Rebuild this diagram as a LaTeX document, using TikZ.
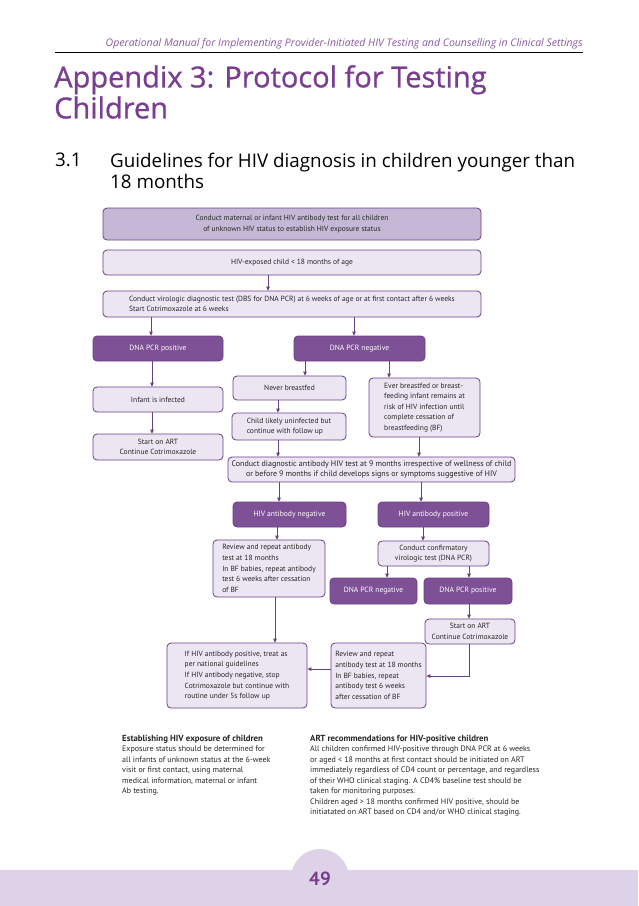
\documentclass[tikz,border=0pt]{standalone}
\usepackage{fontspec}
\setmainfont{PT Sans}
\newfontfamily\titlefont[FakeBold=0.9]{Open Sans}
\newfontfamily\headfont{Open Sans}
\usepackage{xcolor}
\usepackage{tikz}
\usetikzlibrary{arrows.meta, positioning}
\definecolor{plum}{RGB}{126,80,150}
\definecolor{plumline}{RGB}{104,64,132}
\definecolor{lilac}{RGB}{235,230,241}
\definecolor{mauve}{RGB}{196,184,214}
\definecolor{band}{RGB}{221,210,231}
\definecolor{titlepurple}{RGB}{122,62,144}
\definecolor{headpurple}{RGB}{135,88,160}
\tikzset{
    dims/.style 2 args = {minimum width=#1, minimum height=#2},
    boxmid/.style  = {draw=plumline, fill=mauve, rounded corners=4pt, line width=0.8pt,
                      inner sep=0pt, align=center, text=black!85,
                      font=\fontsize{7.5}{11.5}\selectfont},
    boxpale/.style = {draw=plumline, fill=lilac, rounded corners=4pt, line width=0.8pt,
                      inner sep=0pt, text=black!85, font=\fontsize{7.5}{10.6}\selectfont},
    boxdeep/.style = {draw=plumline, fill=plum, rounded corners=4pt, line width=0.8pt,
                      inner sep=0pt, align=center, text=white,
                      font=\fontsize{7.6}{10}\selectfont},
    link/.style    = {-{Triangle[length=4pt, width=3.6pt]}, line width=0.9pt, plumline},
    note/.style    = {anchor=north west, align=left, inner sep=0pt, text=black!85,
                      font=\fontsize{8}{10.5}\selectfont},
}

\begin{document}
\begin{tikzpicture}[x=1pt, y=-1pt]
    \useasboundingbox (0,0) rectangle (638,906);
    % page head
    \node[anchor=base east, inner sep=0pt, text=headpurple,
          font=\fontsize{10.5}{12}\headfont\itshape] (runhead) at (583,46)
        {Operational Manual for Implementing Provider-Initiated HIV Testing and Counselling in Clinical Settings};
    \draw[line width=0.6pt] (55,52) -- (583,52);
    \node[anchor=north west, inner sep=0pt, align=left, text=titlepurple,
          font=\fontsize{29}{31}\titlefont] (title) at (54,65)
        {Appendix 3: Protocol for Testing\\Children};
    \node[anchor=north west, inner sep=0pt, font=\fontsize{18.8}{21}\headfont] (secno) at (55,153) {3.1};
    \node[anchor=north west, inner sep=0pt, align=left,
          font=\fontsize{18.8}{21}\headfont] (sectitle) at (110,153)
        {Guidelines for HIV diagnosis in children younger than\\18 months};

    % flowchart
    \node[boxmid, dims={378pt}{32pt}] (maternal) at (292,224)
        {Conduct maternal or infant HIV antibody test for all children\\of unknown HIV status to establish HIV exposure status};
    \node[boxpale, align=center, dims={378pt}{25pt}] (exposed) at (292,262.5)
        {HIV-exposed child < 18 months of age};
    \node[boxpale, align=left, dims={378pt}{26pt}] (virol) at (292,304)
        {Conduct virologic diagnostic test (DBS for DNA PCR) at 6 weeks of age or at first contact after 6 weeks\\Start Cotrimoxazole at 6 weeks};
    \node[boxdeep, dims={130pt}{25pt}] (pcrpos) at (158,348.5) {DNA PCR positive};
    \node[boxdeep, dims={131pt}{25pt}] (pcrneg) at (359.5,348.5) {DNA PCR negative};
    \node[boxpale, align=center, dims={130pt}{25pt}] (infected) at (158,399.5) {Infant is infected};
    \node[boxpale, align=center, dims={130pt}{26pt}] (artA) at (158,447)
        {Start on ART\\Continue Cotrimoxazole};
    \node[boxpale, align=center, dims={113pt}{24pt}] (never) at (289.5,388) {Never breastfed};
    \node[boxpale, align=left, dims={111pt}{59pt}] (ever) at (424.5,407.5)
        {Ever breastfed or breast-\\feeding infant remains at\\risk of HIV infection until\\complete cessation of\\breastfeeding (BF)};
    \node[boxpale, align=left, dims={114pt}{27pt}] (likely) at (289,426.5)
        {Child likely uninfected but\\continue with follow up};
    \node[boxpale, align=center, dims={287pt}{25pt}, font=\fontsize{8}{10.4}\selectfont] (antibody) at (371.5,469.5)
        {Conduct diagnostic antibody HIV test at 9 months irrespective of wellness of child\\or before 9 months if child develops signs or symptoms suggestive of HIV};
    \node[boxdeep, dims={113pt}{25pt}] (abneg) at (289.5,514.5) {HIV antibody negative};
    \node[boxdeep, dims={111pt}{25pt}] (abpos) at (433.5,514.5) {HIV antibody positive};
    \node[boxpale, align=left, dims={112pt}{57pt}] (reviewA) at (269,568.5)
        {Review and repeat antibody\\test at 18 months\\In BF babies, repeat antibody\\test 6 weeks after cessation\\of BF};
    \node[boxpale, align=center, dims={111pt}{25pt}] (confirm) at (433.5,553.5)
        {Conduct confirmatory\\virologic test (DNA PCR)};
    \node[boxdeep, dims={87pt}{26pt}] (pcrnegB) at (373.5,591) {DNA PCR negative};
    \node[boxdeep, dims={88pt}{26pt}] (pcrposB) at (468,591) {DNA PCR positive};
    \node[boxpale, align=center, dims={90pt}{25pt}] (artB) at (470,631.5)
        {Start on ART\\Continue Cotrimoxazole};
    \node[boxpale, align=left, dims={140pt}{65pt}] (outcome) at (237,675.5)
        {If HIV antibody positive, treat as\\per national guidelines\\If HIV antibody negative, stop\\Cotrimoxazole but continue with\\routine under 5s follow up};
    \node[boxpale, align=left, dims={95pt}{65pt}] (reviewB) at (378.5,675.5)
        {Review and repeat\\antibody test at 18 months\\In BF babies, repeat\\antibody test 6 weeks\\after cessation of BF};

    % connectors
    \draw[link] ([xshift=-24pt]exposed.south) -- ([xshift=-24pt]virol.north);
    \draw[link] ([xshift=-7pt]pcrpos.north |- virol.south) -- ([xshift=-7pt]pcrpos.north);
    \draw[link] ([xshift=-5.5pt]pcrneg.north |- virol.south) -- ([xshift=-5.5pt]pcrneg.north);
    \draw[link] ([xshift=-6pt]pcrpos.south) -- ([xshift=-6pt]infected.north);
    \draw[link] ([xshift=-6pt]infected.south) -- ([xshift=-6pt]artA.north);
    \draw[link] ([xshift=15.5pt]never.north |- pcrneg.south) -- ([xshift=15.5pt]never.north);
    \draw[link] ([xshift=-35.5pt]ever.north |- pcrneg.south) -- ([xshift=-35.5pt]ever.north);
    \draw[link] ([xshift=-11pt]likely.north |- never.south) -- ([xshift=-11pt]likely.north);
    \draw[link] ([xshift=-11pt]likely.south) -- ([xshift=-11pt]likely.south |- antibody.north);
    \draw[link] ([xshift=-5.5pt]ever.south) -- ([xshift=-5.5pt]ever.south |- antibody.north);
    \draw[link] ([xshift=-10.5pt]abneg.north |- antibody.south) -- ([xshift=-10.5pt]abneg.north);
    \draw[link] ([xshift=-12.5pt]abpos.north |- antibody.south) -- ([xshift=-12.5pt]abpos.north);
    \draw[link] ([xshift=8pt]reviewA.north |- abneg.south) -- ([xshift=8pt]reviewA.north);
    \draw[link] ([xshift=-10.5pt]abpos.south) -- ([xshift=-10.5pt]confirm.north);
    \draw[link] ([xshift=13.5pt]pcrnegB.north |- confirm.south) -- ([xshift=13.5pt]pcrnegB.north);
    \draw[link] ([xshift=1pt]pcrposB.north |- confirm.south) -- ([xshift=1pt]pcrposB.north);
    \draw[link] ([xshift=1pt]pcrposB.south) -- ([xshift=1pt]pcrposB.south |- artB.north);
    \draw[link] ([xshift=6pt]reviewA.south) -- ([xshift=6pt]reviewA.south |- outcome.north);
    \draw[link] ([xshift=-1pt]artB.south) |- ([yshift=-0.5pt]reviewB.east);
    \draw[link] ([yshift=6.5pt]reviewB.west) -- ([yshift=6.5pt]outcome.east);

    % notes under the chart
    \node[note] (exposnote) at (122,735)
        {{\fontsize{8.8}{10.5}\selectfont\bfseries Establishing HIV exposure of children}\\
         Exposure status should be determined for\\
         all infants of unknown status at the 6-week\\
         visit or first contact, using maternal\\
         medical information, maternal or infant\\
         Ab testing.};
    \node[note] (artnote) at (310,735)
        {{\fontsize{8.8}{10.5}\selectfont\bfseries ART recommendations for HIV-positive children}\\
         All children confirmed HIV-positive through DNA PCR at 6 weeks\\
         or aged < 18 months at first contact should be initiated on ART\\
         immediately regardless of CD4 count or percentage, and regardless\\
         of their WHO clinical staging. A CD4\% baseline test should be\\
         taken for monitoring purposes.\\
         Children aged > 18 months confirmed HIV positive, should be\\
         initiatated on ART based on CD4 and/or WHO clinical staging.};

    % page foot
    \fill[band] (0,870) rectangle (638,906);
    \fill[band] (320,878) circle[radius=29pt];
    \node[font=\fontsize{19}{20}\selectfont\bfseries, text=titlepurple] (pageno) at (320,879) {49};
\end{tikzpicture}
\end{document}
